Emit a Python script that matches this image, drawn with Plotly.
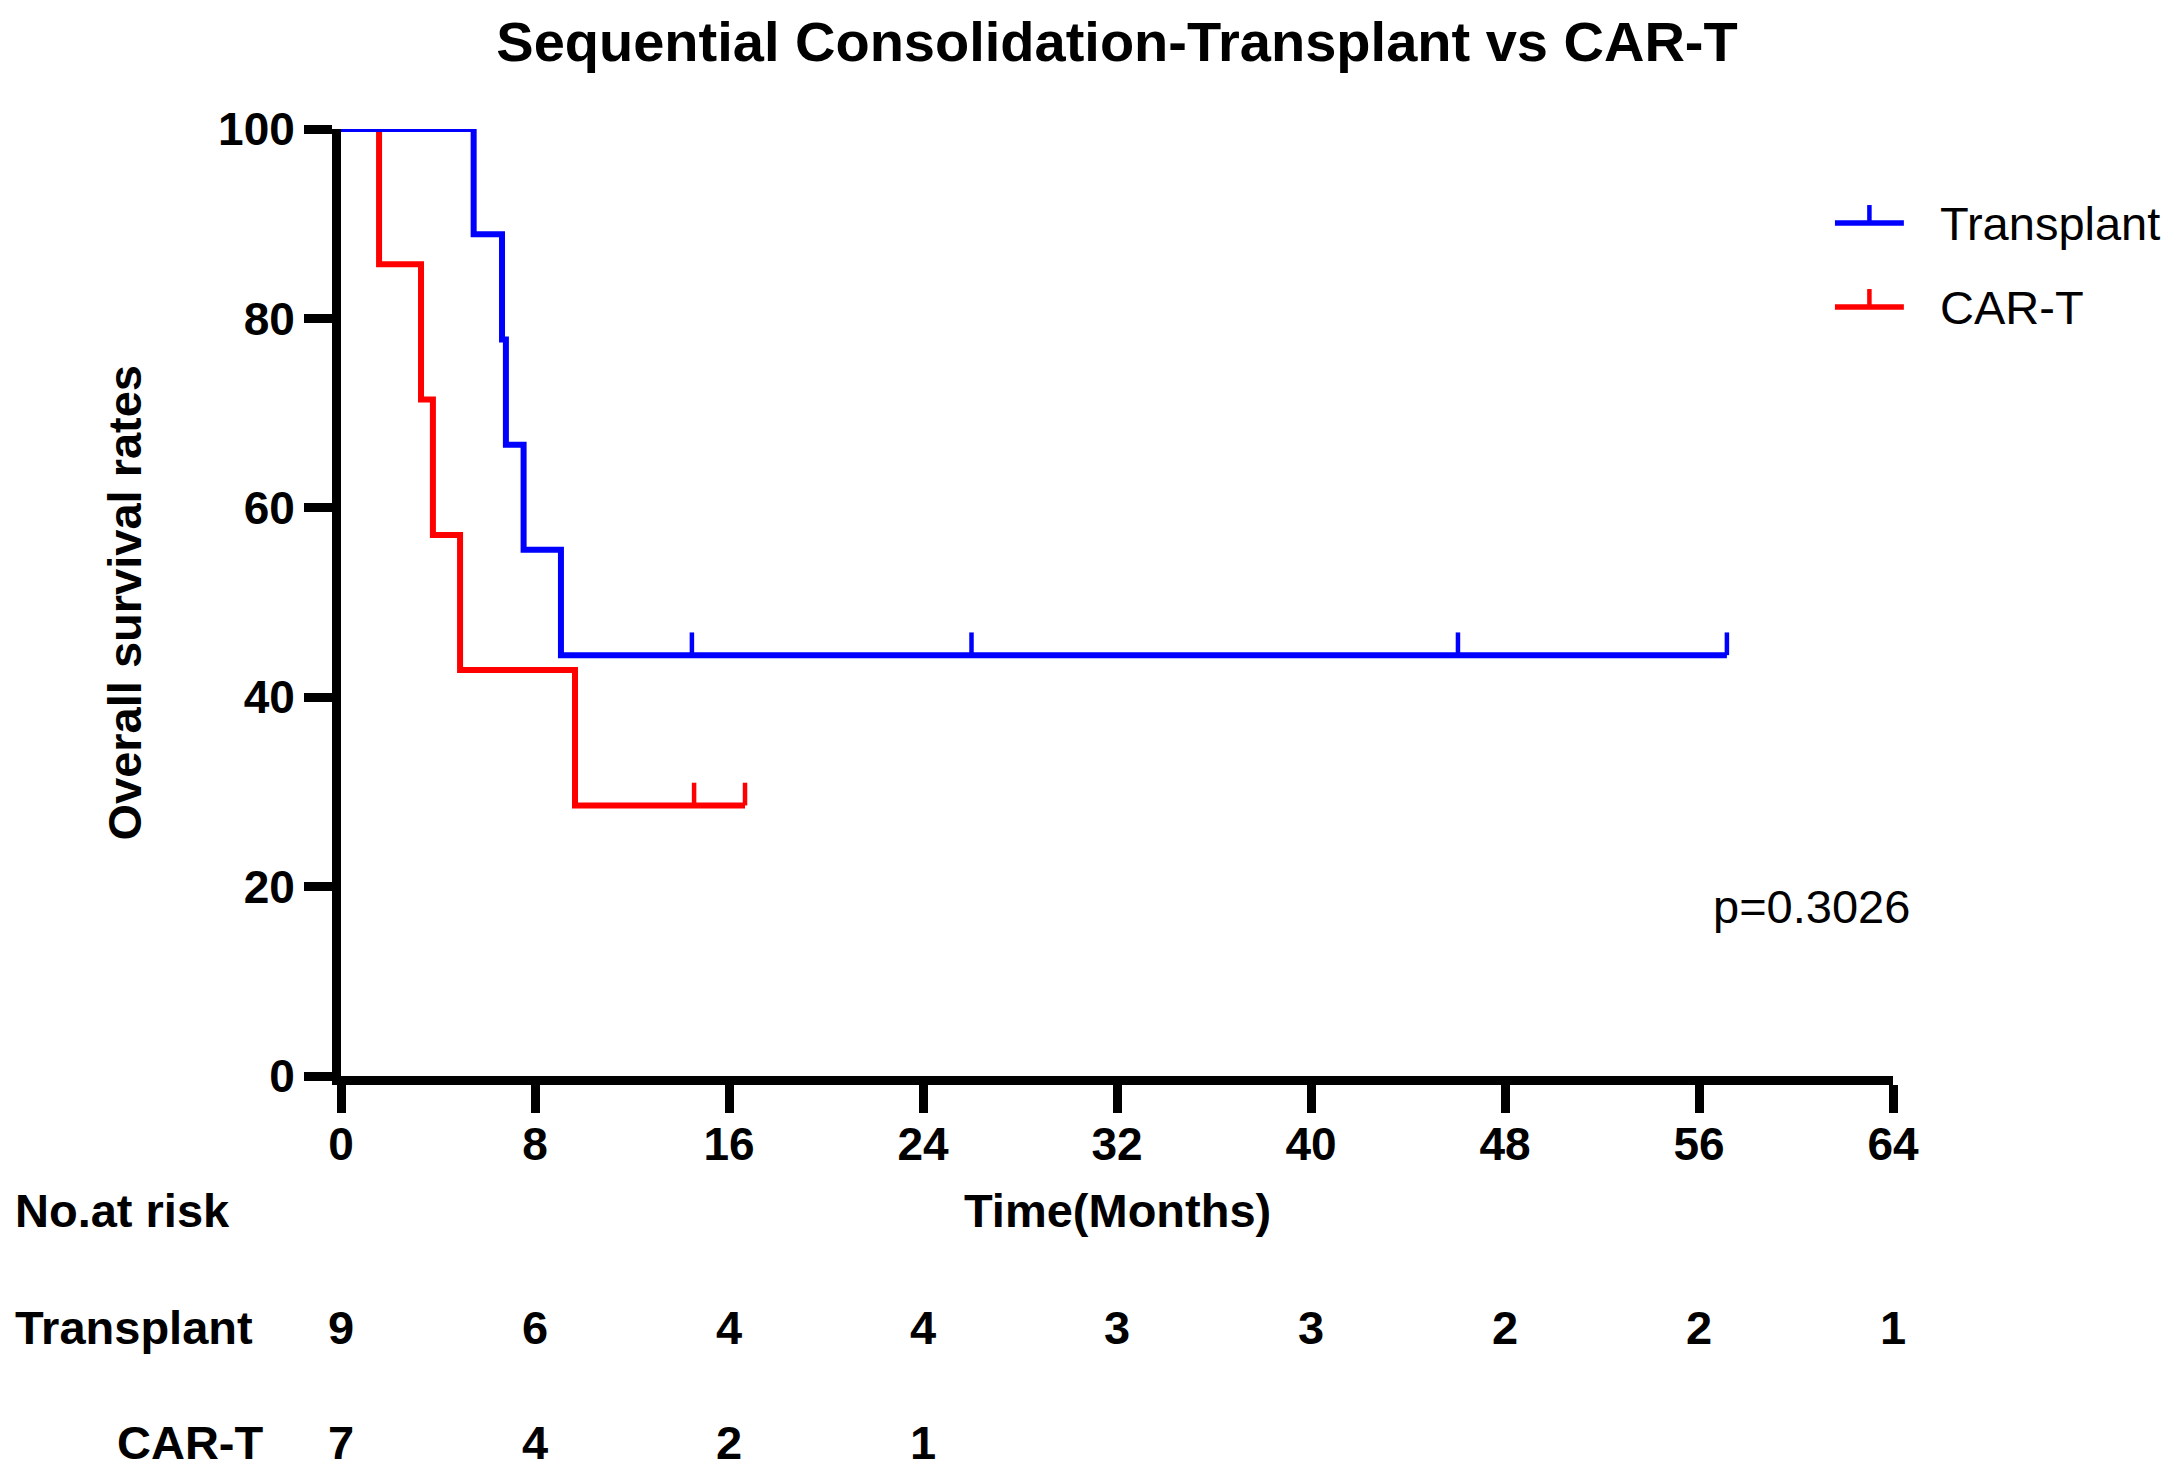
import plotly.graph_objects as go

# Kaplan-Meier steps (months, % surviving)
transplant_times = [0, 5.47, 6.64, 6.80, 7.53, 9.07, 57.15]
transplant_surv = [100, 88.89, 77.78, 66.67, 55.56, 44.44, 44.44]
transplant_censor_t = [14.47, 26.0, 46.06, 57.15]
transplant_censor_s = [44.44, 44.44, 44.44, 44.44]

cart_times = [0, 1.57, 3.30, 3.79, 4.91, 9.65, 16.66]
cart_surv = [100, 85.71, 71.43, 57.14, 42.86, 28.57, 28.57]
cart_censor_t = [14.56, 16.66]
cart_censor_s = [28.57, 28.57]

# number at risk table
risk_times = [0, 8, 16, 24, 32, 40, 48, 56, 64]
transplant_risk = [9, 6, 4, 4, 3, 3, 2, 2, 1]
cart_risk = [7, 4, 2, 1]

p_text = "p=0.3026"

BLUE = "#0000FF"
RED = "#FF0000"
FONT = "Arial, Liberation Sans, sans-serif"

W, H = 2169, 1471
# page body adds ~8px, so margins are pulled in a little
L, R, T, B = 333, 284, 121, 403


def step_trace(t, s, color, name):
    return go.Scatter(x=t, y=s, mode="lines", name=name, line_shape="hv",
                      line=dict(color=color, width=6), cliponaxis=False,
                      hoverinfo="skip")


def censor_trace(t, s, color, name):
    # small upward ticks for censored observations
    return go.Scatter(x=t, y=s, mode="markers", name=name, showlegend=False,
                      marker=dict(size=1, color=color, opacity=0),
                      error_y=dict(type="data", symmetric=False,
                                   array=[2.4] * len(t), arrayminus=[0] * len(t),
                                   width=0, thickness=4.5, color=color),
                      cliponaxis=False, hoverinfo="skip")


fig = go.Figure()
# red first so the blue line sits on top where both start at 100
fig.add_trace(step_trace(cart_times, cart_surv, RED, "CAR-T"))
fig.add_trace(step_trace(transplant_times, transplant_surv, BLUE, "Transplant"))
fig.add_trace(censor_trace(cart_censor_t, cart_censor_s, RED, "CAR-T censored"))
fig.add_trace(censor_trace(transplant_censor_t, transplant_censor_s, BLUE, "Transplant censored"))

axis_common = dict(showgrid=False, zeroline=False, showline=True, linecolor="black",
                   linewidth=9, ticks="outside", ticklen=28, tickwidth=9,
                   tickcolor="black",
                   tickfont=dict(family=FONT, size=46, color="black", weight="bold"))

fig.update_xaxes(range=[0, 64], tickvals=risk_times, ticklabelstandoff=-8, **axis_common)
fig.update_yaxes(range=[0, 100], tickvals=[0, 20, 40, 60, 80, 100], **axis_common)

txt = dict(family=FONT, size=47, color="black")
ann = []
# axis titles
ann.append(dict(text="<b>Overall survival rates</b>", xref="paper", yref="paper",
                x=-0.1398, y=0.5, textangle=-90, xanchor="center", yanchor="middle",
                showarrow=False, font=txt))
ann.append(dict(text="<b>Time(Months)</b>", xref="paper", yref="paper",
                x=0.5, y=-0.1415, xanchor="center", yanchor="middle",
                showarrow=False, font=txt))
# p value
ann.append(dict(text=p_text, xref="paper", yref="paper", x=1.0122, y=0.1795,
                xanchor="right", yanchor="middle", showarrow=False, font=txt))

# risk table
ann.append(dict(text="<b>No.at risk</b>", xref="paper", yref="paper",
                x=-0.2113, y=-0.1415, xanchor="left", yanchor="middle",
                showarrow=False, font=txt))
ann.append(dict(text="<b>Transplant</b>", xref="paper", yref="paper",
                x=-0.2113, y=-0.266, xanchor="left", yanchor="middle",
                showarrow=False, font=txt))
ann.append(dict(text="<b>CAR-T</b>", xref="paper", yref="paper",
                x=-0.0490, y=-0.3865, xanchor="right", yanchor="middle",
                showarrow=False, font=txt))
for t, n in zip(risk_times, transplant_risk):
    ann.append(dict(text="<b>%d</b>" % n, xref="x", yref="paper", x=t, y=-0.266,
                    xanchor="center", yanchor="middle", showarrow=False, font=txt))
for t, n in zip(risk_times, cart_risk):
    ann.append(dict(text="<b>%d</b>" % n, xref="x", yref="paper", x=t, y=-0.3865,
                    xanchor="center", yanchor="middle", showarrow=False, font=txt))

# legend drawn by hand: line with a small upward tick, then label
shapes = []
legend_items = [("Transplant", BLUE, 0.9007), ("CAR-T", RED, 0.8120)]
for name, color, ly in legend_items:
    shapes.append(dict(type="line", xref="paper", yref="paper", x0=0.9626, x1=1.007,
                       y0=ly, y1=ly, line=dict(color=color, width=5.5)))
    shapes.append(dict(type="line", xref="paper", yref="paper", x0=0.9848, x1=0.9848,
                       y0=ly, y1=ly + 0.019, line=dict(color=color, width=4.5)))
    ann.append(dict(text=name, xref="paper", yref="paper", x=1.029, y=ly,
                    xanchor="left", yanchor="middle", showarrow=False, font=txt))

fig.update_layout(
    width=W, height=H,
    margin=dict(l=L, r=R, t=T, b=B),
    paper_bgcolor="white", plot_bgcolor="white",
    showlegend=False,
    title=dict(text="<b>Sequential Consolidation-Transplant vs CAR-T</b>",
               x=0.5, xref="paper", y=1 - 33 / H, yref="container",
               yanchor="middle", xanchor="center",
               font=dict(family=FONT, size=56, color="black")),
    annotations=ann,
    shapes=shapes,
)

fig.write_html("out.html")
